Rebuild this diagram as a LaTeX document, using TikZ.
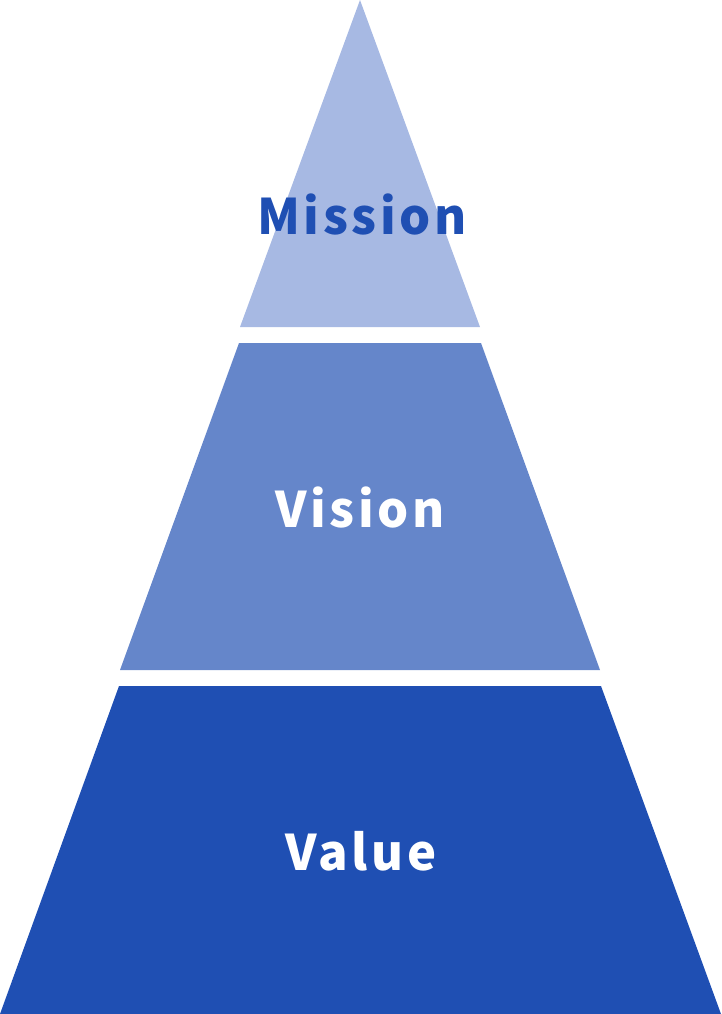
\documentclass[tikz,border=0pt]{standalone}
\usepackage{fontspec}
\newfontfamily\labelfont{Noto Sans CJK JP}[LetterSpace=7.5]
\definecolor{tierlight}{HTML}{A7B9E3}
\definecolor{tiermid}{HTML}{6586CA}
\definecolor{tierdark}{HTML}{1F4FB3}

\begin{document}
\begin{tikzpicture}[x=1pt,y=-1pt,
  tier/.style={anchor=center,inner sep=0pt,font=\labelfont\bfseries\fontsize{49}{59}\selectfont}]
\useasboundingbox (0,0) rectangle (721,1014);
\fill[tierlight] (360,0) -- (480,327) -- (240,327) -- cycle;
\fill[tiermid] (239,343) -- (481,343) -- (600,670) -- (120,670) -- cycle;
\fill[tierdark] (119,686) -- (601,686) -- (721,1014) -- (0,1014) -- cycle;
\node[tier,text=tierdark] (mission) at (362,214) {Mission};
\node[tier,text=white] (vision) at (360,507) {Vision};
\node[tier,text=white] (value) at (361,851) {Value};
\end{tikzpicture}
\end{document}
